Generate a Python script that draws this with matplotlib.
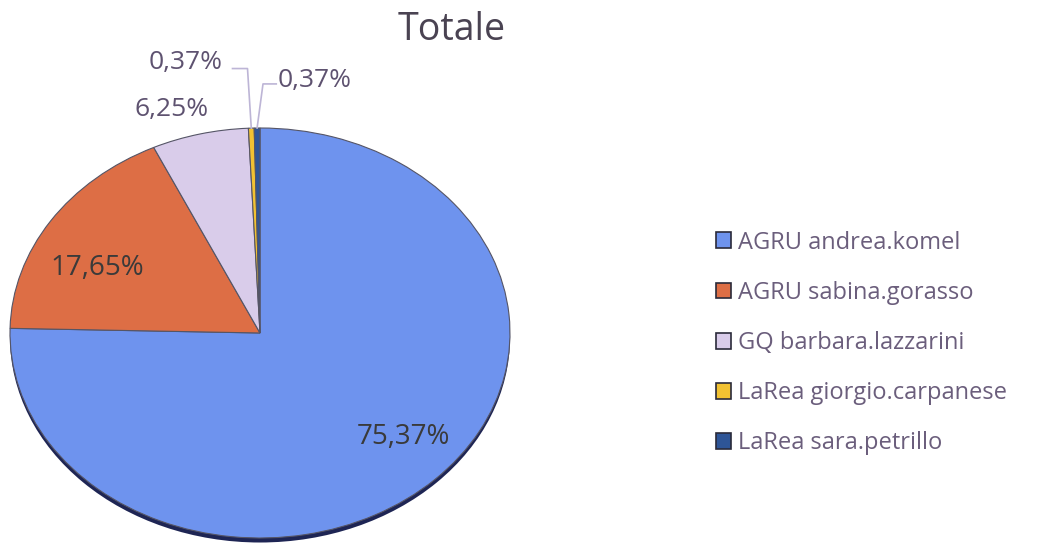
import matplotlib
matplotlib.use("Agg")
import matplotlib.pyplot as plt
import numpy as np
from matplotlib.patches import Ellipse, Patch

categories = ["AGRU andrea.komel", "AGRU sabina.gorasso", "GQ barbara.lazzarini",
              "LaRea giorgio.carpanese", "LaRea sara.petrillo"]
values = [75.37, 17.65, 6.25, 0.37, 0.37]
labels = ["75,37%", "17,65%", "6,25%", "0,37%", "0,37%"]
title = "Totale"

colors = ["#6E93EE", "#DD6E45", "#D9CCEA", "#F2C232", "#2E5597"]
FONT = "Open Sans"
W, H = 1046, 546

fig = plt.figure(figsize=(W / 100, H / 100), dpi=100)
fig.patch.set_facecolor("white")

# pie axes mapped onto the elliptical bounding box (pixels)
px_l, px_r, px_t, px_b = 10, 510, 128, 538
ax = fig.add_axes([px_l / W, (H - px_b) / H, (px_r - px_l) / W, (px_b - px_t) / H])

# dark rim underneath (3D edge)
rim = Ellipse((0, -0.022), 2.0, 2.0, facecolor="#1E2554", edgecolor="none", zorder=0, clip_on=False)
ax.add_patch(rim)

wedges, _ = ax.pie(values, colors=colors, startangle=90, counterclock=False,
                   radius=1.0, wedgeprops=dict(edgecolor="#555566", linewidth=0.8),
                   frame=True)
ax.set_xlim(-1, 1)
ax.set_ylim(-1, 1)
ax.set_aspect("auto")
ax.axis("off")
for w in wedges:
    w.set_zorder(1)
    w.set_clip_on(False)

def mid(w):
    return np.deg2rad((w.theta1 + w.theta2) / 2)

# inside labels (positions in pie-axes units)
ax.text(0.572, -0.507, labels[0], ha="center", va="center",
        fontsize=20, color="#3A3A3A", family=FONT, zorder=3)
ax.text(-0.652, 0.317, labels[1], ha="center", va="center",
        fontsize=20, color="#3A3A3A", family=FONT, zorder=3)

out_col = "#5E5270"
line_col = "#BDB5D6"
OUT_FS = 19
# 6,25% label outside
ax.text(-0.352, 1.09, labels[2], ha="center", va="center", fontsize=OUT_FS,
        color=out_col, family=FONT, zorder=3, clip_on=False)

# 0,37% (yellow) with leader
a = mid(wedges[3])
tip = (np.cos(a), np.sin(a))
ax.text(-0.15, 1.318, labels[3], ha="right", va="center", fontsize=OUT_FS,
        color=out_col, family=FONT, zorder=3, clip_on=False)
ax.plot([-0.11, -0.05, tip[0]], [1.29, 1.29, tip[1]], color=line_col, lw=1.2,
        clip_on=False, zorder=2)

# 0,37% (dark blue) with leader
a = mid(wedges[4])
tip = (np.cos(a), np.sin(a))
ax.text(0.07, 1.23, labels[4], ha="left", va="center", fontsize=OUT_FS,
        color=out_col, family=FONT, zorder=3, clip_on=False)
ax.plot([0.065, 0.012, tip[0]], [1.215, 1.215, tip[1]], color=line_col, lw=1.2,
        clip_on=False, zorder=2)

fig.text(452 / W, 1 - 30 / H, title, ha="center", va="center", fontsize=27,
         color="#4A4352", family=FONT)

handles = [Patch(facecolor=c, edgecolor="#2A2A3A", linewidth=1.2) for c in colors]
leg = fig.legend(handles, categories, loc="center left",
                 bbox_to_anchor=(704 / W, 1 - 343 / H), frameon=False,
                 prop=dict(family=FONT, size=17), labelspacing=1.11,
                 handlelength=0.65, handleheight=0.65, handletextpad=0.3,
                 borderpad=0)
for t in leg.get_texts():
    t.set_color("#6B5E7C")

fig.savefig("out.png", dpi=100)
